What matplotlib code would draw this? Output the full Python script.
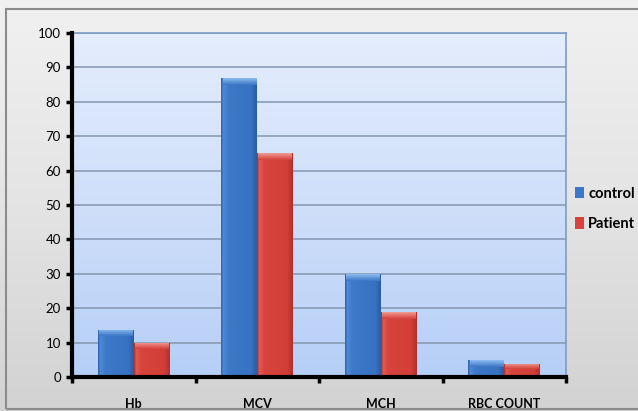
import numpy as np
import matplotlib
matplotlib.use("Agg")
import matplotlib.pyplot as plt
from matplotlib.patches import Rectangle
from matplotlib.colors import LinearSegmentedColormap

categories = ["Hb", "MCV", "MCH", "RBC COUNT"]
control = [13.8, 87, 30, 4.8]
patient = [10, 65, 19, 3.8]
series_names = ["control", "Patient"]
yticks = list(range(0, 101, 10))

plt.rcParams["font.family"] = ["Lato", "DejaVu Sans"]

fig = plt.figure(figsize=(6.38, 4.11), dpi=100)

# chart-area background: soft grey vertical gradient with a frame
bg = fig.add_axes([0, 0, 1, 1], zorder=-10)
bg.set_axis_off()
grad = np.linspace(0, 1, 256).reshape(-1, 1)
bg_cmap = LinearSegmentedColormap.from_list("bg", ["#f1f1f1", "#e4e4e4", "#d2d2d2"])
bg.imshow(grad, aspect="auto", cmap=bg_cmap, extent=[0, 1, 0, 1], origin="upper")
bg.add_patch(Rectangle((6 / 638, 2 / 411), 1.2, 1 - 11 / 411, transform=bg.transAxes,
                       fill=False, edgecolor="#8c8c8c", linewidth=1.5))
bg.set_xlim(0, 1)
bg.set_ylim(0, 1)

ax = fig.add_axes([72 / 638, 34 / 411, (566 - 72) / 638, (377 - 33) / 411])

# plot-area gradient
pa_cmap = LinearSegmentedColormap.from_list("pa", ["#e4edfc", "#cfdffa", "#b6cff6"])
ax.imshow(grad, aspect="auto", cmap=pa_cmap, extent=[-0.5, 3.5, 0, 100],
          origin="upper", zorder=0)

x = np.arange(len(categories))
w = 0.29
blue_cmap = LinearSegmentedColormap.from_list(
    "b", [(0, "#2f64ad"), (0.06, "#4f8ad6"), (0.2, "#3d79c8"), (0.85, "#3872c2"), (1, "#2a5ca3")])
red_cmap = LinearSegmentedColormap.from_list(
    "r", [(0, "#b22f2b"), (0.06, "#e25a54"), (0.2, "#d8433d"), (0.85, "#d23e38"), (1, "#b0302c")])

hgrad = np.linspace(0, 1, 64).reshape(1, -1)
bars_c = ax.bar(x - w / 2, control, w, color="#3b78c9", zorder=3, label=series_names[0])
bars_p = ax.bar(x + w / 2, patient, w, color="#d9423c", zorder=3, label=series_names[1])
for bars, cm, cap in ((bars_c, blue_cmap, "#8cbcf2"), (bars_p, red_cmap, "#f29a94")):
    for b in bars:
        x0, h, bw = b.get_x(), b.get_height(), b.get_width()
        im = ax.imshow(hgrad, aspect="auto", cmap=cm, extent=[x0, x0 + bw, 0, h], zorder=4)
        im.set_clip_path(b)
        # light rounded top of each column
        ch = min(2.0, h * 0.4)
        capgrad = np.linspace(0, 1, 32).reshape(-1, 1)
        ccm = LinearSegmentedColormap.from_list("c", [cap, cm(0.5)])
        im2 = ax.imshow(capgrad, aspect="auto", cmap=ccm,
                        extent=[x0 + bw * 0.03, x0 + bw * 0.97, h - ch, h],
                        origin="upper", zorder=5)
        im2.set_clip_path(b)

ax.set_xlim(-0.5, 3.5)
ax.set_ylim(0, 100)
ax.set_yticks(yticks)
ax.set_yticklabels([str(v) for v in yticks], fontsize=9.5)
ax.yaxis.grid(True, color="#8496b0", linewidth=1.1)
for gl in ax.get_ygridlines():
    gl.set_zorder(1)

ax.set_xticks(x)
ax.set_xticklabels(categories, fontsize=9, fontweight="bold")
ax.set_xticks(np.arange(-0.5, 4, 1), minor=True)
ax.tick_params(axis="x", which="major", length=0, pad=15)
ax.tick_params(axis="x", which="minor", length=4, width=2.5, direction="out", color="black")
ax.tick_params(axis="y", length=4, width=2.5, direction="out", color="black", pad=4)

for s in ("left", "bottom"):
    ax.spines[s].set_linewidth(3)
    ax.spines[s].set_color("black")
    ax.spines[s].set_zorder(6)
for s in ("top", "right"):
    ax.spines[s].set_linewidth(1.2)
    ax.spines[s].set_color("#7f9cc4")

fig.legend(handles=[bars_c, bars_p], labels=series_names,
           loc="center left", bbox_to_anchor=(562 / 638, 1 - 209 / 411),
           frameon=False, handlelength=0.6, handleheight=0.8,
           handletextpad=0.3, labelspacing=1.1, prop={"weight": "bold", "size": 10.5})

fig.savefig("out.png", dpi=100)
